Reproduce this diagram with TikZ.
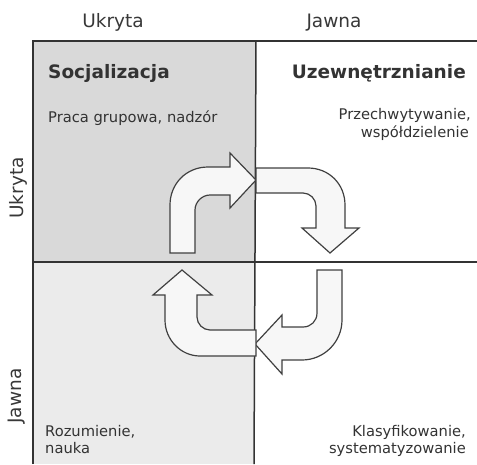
\documentclass[tikz,border=0pt]{standalone}
\usepackage{fontspec}
\setmainfont{DejaVu Sans}
\begin{document}
\begin{tikzpicture}[x=1pt,y=-1pt,
  gridline/.style={draw=black!80,line width=1.5pt},
  bentarrow/.style={draw=black!75,line width=1.2pt,fill=white!97!black,line join=miter},
  axislabel/.style={font=\fontsize{18.5}{21}\selectfont,text=black!78,inner sep=0pt},
  title/.style={font=\fontsize{18.5}{21}\selectfont\bfseries,text=black!80,inner sep=0pt},
  note/.style={font=\fontsize{14.7}{17}\selectfont,text=black!80,inner sep=0pt}]
\useasboundingbox (0,0) rectangle (477,464);

% shaded quadrants of the tacit column
\fill[black!15] (33,41) rectangle (256,262);
\fill[black!8] (33,262) rectangle (255,464);

% grid
\draw[gridline] (33,464) -- (33,41) -- (477,41);
\draw[gridline] (256,41) -- (254,464);
\draw[gridline] (33,262) -- (477,262);

% axis labels
\node[axislabel,anchor=base] (colT) at (113,27) {Ukryta};
\node[axislabel,anchor=base] (colE) at (334,27) {Jawna};
\node[axislabel,rotate=90] (rowT) at (18,188) {Ukryta};
\node[axislabel,rotate=90] (rowE) at (17,396) {Jawna};

% quadrant titles and descriptions
\node[title,anchor=base west] (soc) at (48,78) {Socjalizacja};
\node[title,anchor=base east] (ext) at (466,78) {Uzewnętrznianie};
\node[note,anchor=base west] (socA) at (48,122) {Praca grupowa, nadzór};
\node[note,anchor=base east] (extA) at (471,119) {Przechwytywanie,};
\node[note,anchor=base east] (extB) at (469,137) {współdzielenie};
\node[note,anchor=base west] (intA) at (45,436) {Rozumienie,};
\node[note,anchor=base west] (intB) at (45,453) {nauka};
\node[note,anchor=base east] (comA) at (466,436) {Klasyfikowanie,};
\node[note,anchor=base east] (comB) at (466,453) {systematyzowanie};

% cycle of bent arrows
\draw[bentarrow] (170,253) -- (170,205) .. controls (170,184) and (186,167) .. (208,167) -- (230,167)
  -- (230,153) -- (256,180) -- (230,208) -- (230,195) -- (210,195)
  .. controls (202,195) and (195,202) .. (195,210) -- (195,253) -- cycle;
\draw[bentarrow] (256,168) -- (308,168) .. controls (329,168) and (345,184) .. (345,205) -- (345,228)
  -- (359,228) -- (330,253) -- (302,228) -- (316,228) -- (316,206)
  .. controls (316,199) and (310,193) .. (303,193) -- (256,193) -- cycle;
\draw[bentarrow] (317,270) -- (342,270) -- (342,320) .. controls (342,342) and (324,360) .. (302,360)
  -- (282,360) -- (282,374) -- (255,344) -- (282,315) -- (282,327) -- (303,327)
  .. controls (311,327) and (317,321) .. (317,313) -- cycle;
\draw[bentarrow] (256,330) -- (210,330) .. controls (203,330) and (197,324) .. (197,317) -- (197,295)
  -- (212,295) -- (182,270) -- (153,295) -- (165,295) -- (165,320)
  .. controls (165,340) and (181,356) .. (200,356) -- (256,356) -- cycle;
\end{tikzpicture}
\end{document}
